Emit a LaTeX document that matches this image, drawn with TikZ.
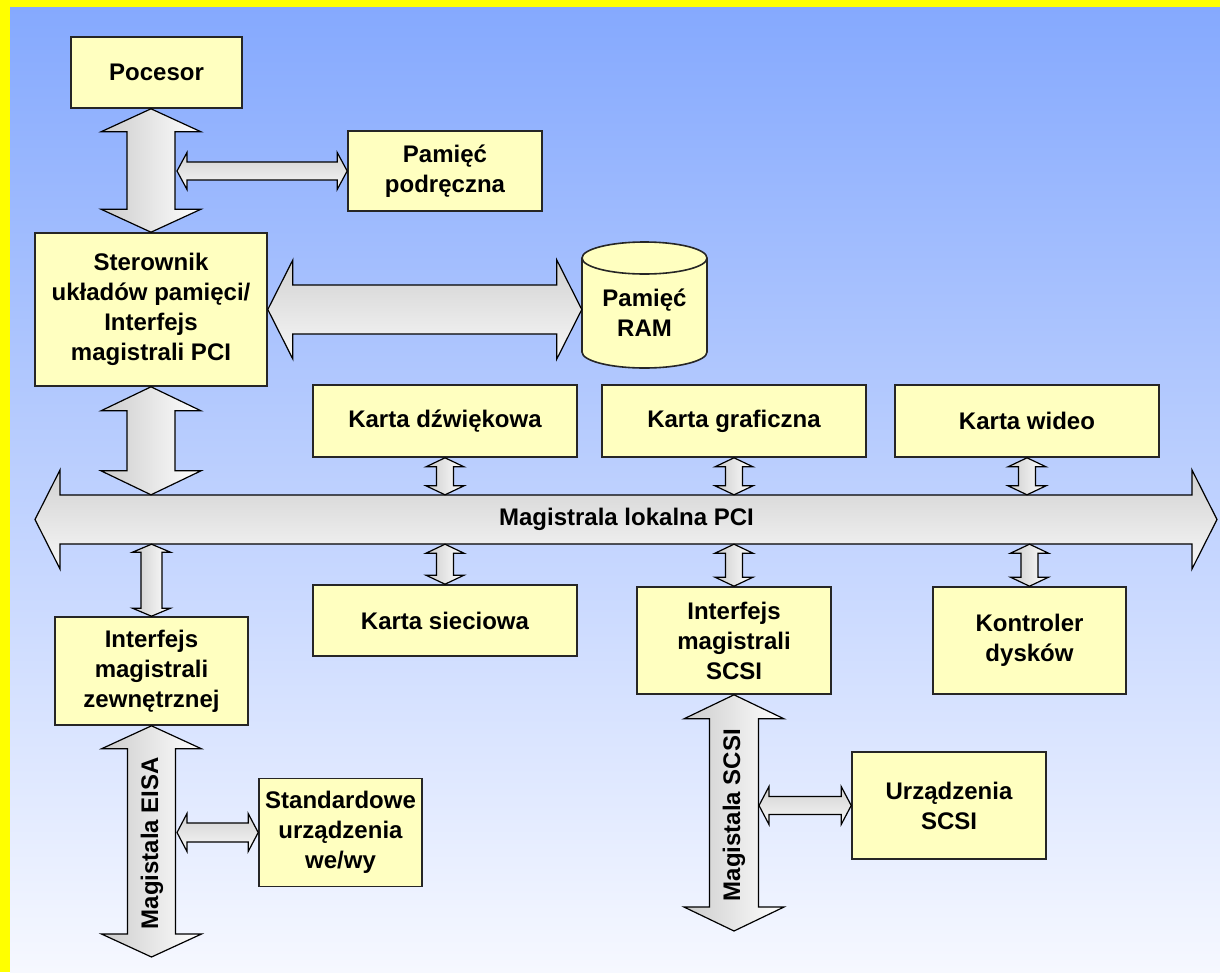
\documentclass[tikz,border=0pt]{standalone}
\usepackage{fontspec}
\setmainfont{Liberation Sans}
\usetikzlibrary{calc}
\definecolor{boxyellow}{RGB}{255,255,192}
\definecolor{bgtop}{RGB}{133,169,254}
\definecolor{bgbot}{RGB}{246,248,255}
\definecolor{bord}{RGB}{255,255,0}
\newcommand{\darrV}[6]{%
  \path[#1] let \p1=(#2), \p2=(#3) in
   (\x1,\y1) -- (\x1+#5,\y1-#6) -- (\x1+#4,\y1-#6) -- (\x1+#4,\y2+#6) -- (\x1+#5,\y2+#6) -- (\x1,\y2)
   -- (\x1-#5,\y2+#6) -- (\x1-#4,\y2+#6) -- (\x1-#4,\y1-#6) -- (\x1-#5,\y1-#6) -- cycle;}
\newcommand{\darrH}[6]{%
  \path[#1] let \p1=(#2), \p2=(#3) in
   (\x1,\y1) -- (\x1+#6,\y1+#5) -- (\x1+#6,\y1+#4) -- (\x2-#6,\y1+#4) -- (\x2-#6,\y1+#5) -- (\x2,\y1)
   -- (\x2-#6,\y1-#5) -- (\x2-#6,\y1-#4) -- (\x1+#6,\y1-#4) -- (\x1+#6,\y1-#5) -- cycle;}
\begin{document}
\begin{tikzpicture}[x=1pt,y=-1pt,
  box/.style={draw=black!85,line width=1.6pt,fill=boxyellow,align=center,inner sep=0pt,
    font=\bfseries\fontsize{24}{30}\selectfont},
  lbl/.style={align=center,inner sep=0pt,font=\bfseries\fontsize{24}{30}\selectfont},
  arrV/.style={draw=black,line width=1.2pt,left color=black!20,right color=white},
  arrH/.style={draw=black,line width=1.2pt,top color=black!18,bottom color=black!3}]
\useasboundingbox (0,0) rectangle (1220,972);
\fill[bord] (0,0) rectangle (1220,972);
\shade[top color=bgtop,bottom color=bgbot] (10,7) rectangle (1220,972);

% nodes
\node[box,minimum width=171pt,minimum height=71pt] (pocesor) at (156.5,72.5) {Pocesor};
\node[box,minimum width=194pt,minimum height=80pt] (cache) at (445,171) {Pamięć\\podręczna};
\node[box,minimum width=232pt,minimum height=153pt] (sterownik) at (151,309.5) {Sterownik\\układów pamięci/\\Interfejs\\magistrali PCI};
\node[box,minimum width=264pt,minimum height=72pt] (kd) at (445,421) {Karta dźwiękowa};
\node[box,minimum width=264pt,minimum height=72pt] (kg) at (734,421) {Karta graficzna};
\node[box,minimum width=264pt,minimum height=72pt] (kw) at (1027,421) {Karta wideo};
\node[box,minimum width=193pt,minimum height=108pt] (zewn) at (151.5,671) {Interfejs\\magistrali\\zewnętrznej};
\node[box,minimum width=264pt,minimum height=71pt] (ks) at (445,620.5) {Karta sieciowa};
\node[box,minimum width=194pt,minimum height=107pt] (iscsi) at (734,640.5) {Interfejs\\magistrali\\SCSI};
\node[box,minimum width=193pt,minimum height=107pt] (kon) at (1029.5,640.5) {Kontroler\\dysków};
\node[box,minimum width=163pt,minimum height=108pt] (std) at (340.5,832.5) {Standardowe\\urządzenia\\we/wy};
\node[box,minimum width=194pt,minimum height=107pt] (dev) at (949,805.5) {Urządzenia\\SCSI};

% RAM cylinder
\fill[boxyellow] (582,258) -- (582,352) arc[start angle=180,end angle=360,x radius=62.5pt,y radius=16pt]
  -- (707,258) arc[start angle=0,end angle=180,x radius=62.5pt,y radius=16pt] -- cycle;
\draw[black!85,line width=1.6pt] (582,258) -- (582,352) arc[start angle=180,end angle=360,x radius=62.5pt,y radius=16pt] -- (707,258);
\draw[black!85,line width=1.6pt] (644.5,258) ellipse [x radius=62.5pt,y radius=16pt];
\node[lbl,minimum width=125pt] (ram) at (644.5,313) {Pamięć\\RAM};

% bus
\coordinate (busL) at (35,519.5);
\coordinate (busR) at (1217,519.5);
\darrH{arrH}{busL}{busR}{24.5pt}{49.5pt}{25pt}
\node[lbl,minimum width=1133pt,minimum height=49pt] (pci) at (626.5,519.5) {Magistrala lokalna PCI};

% free ends
\coordinate (cpuR) at (177,171);
\coordinate (eisaEnd) at (152,957);
\coordinate (eisaR) at (177,832.5);
\coordinate (scsiEnd) at (734,931);
\coordinate (scsiR) at (759,805.5);

% big arrows
\darrV{arrV}{sterownik.north |- pocesor.south}{sterownik.north}{24pt}{50pt}{23pt}
\darrH{arrH}{sterownik.east}{ram.west |- sterownik.east}{24.5pt}{49.5pt}{25pt}
\darrV{arrV}{sterownik.south}{sterownik.south |- pci.north}{24pt}{50pt}{24pt}
\darrV{arrV}{zewn.south}{eisaEnd}{24pt}{50pt}{23pt}
\darrV{arrV}{iscsi.south}{scsiEnd}{24.5pt}{50pt}{24pt}

% small arrows
\darrH{arrH}{cpuR}{cache.west}{9pt}{18.5pt}{10pt}
\darrH{arrH}{eisaR}{std.west}{9.5pt}{19pt}{10pt}
\darrH{arrH}{scsiR}{dev.west}{9pt}{19pt}{10pt}
\darrV{arrV}{kd.south}{kd.south |- pci.north}{8.5pt}{19pt}{9pt}
\darrV{arrV}{kg.south}{kg.south |- pci.north}{8.5pt}{19pt}{9pt}
\darrV{arrV}{kw.south}{kw.south |- pci.north}{8.5pt}{19pt}{9pt}
\darrV{arrV}{pci.south -| ks.north}{ks.north}{8.5pt}{19pt}{9pt}
\darrV{arrV}{pci.south -| iscsi.north}{iscsi.north}{8.5pt}{19pt}{9pt}
\darrV{arrV}{pci.south -| kon.north}{kon.north}{8.5pt}{19pt}{9pt}
\darrV{arrV}{pci.south -| zewn.north}{zewn.north}{10.5pt}{19pt}{8pt}

% rotated labels
\node[lbl,rotate=90] (eisa) at (152,843) {Magistala EISA};
\node[lbl,rotate=90] (scsil) at (734,815) {Magistala SCSI};
\end{tikzpicture}
\end{document}
